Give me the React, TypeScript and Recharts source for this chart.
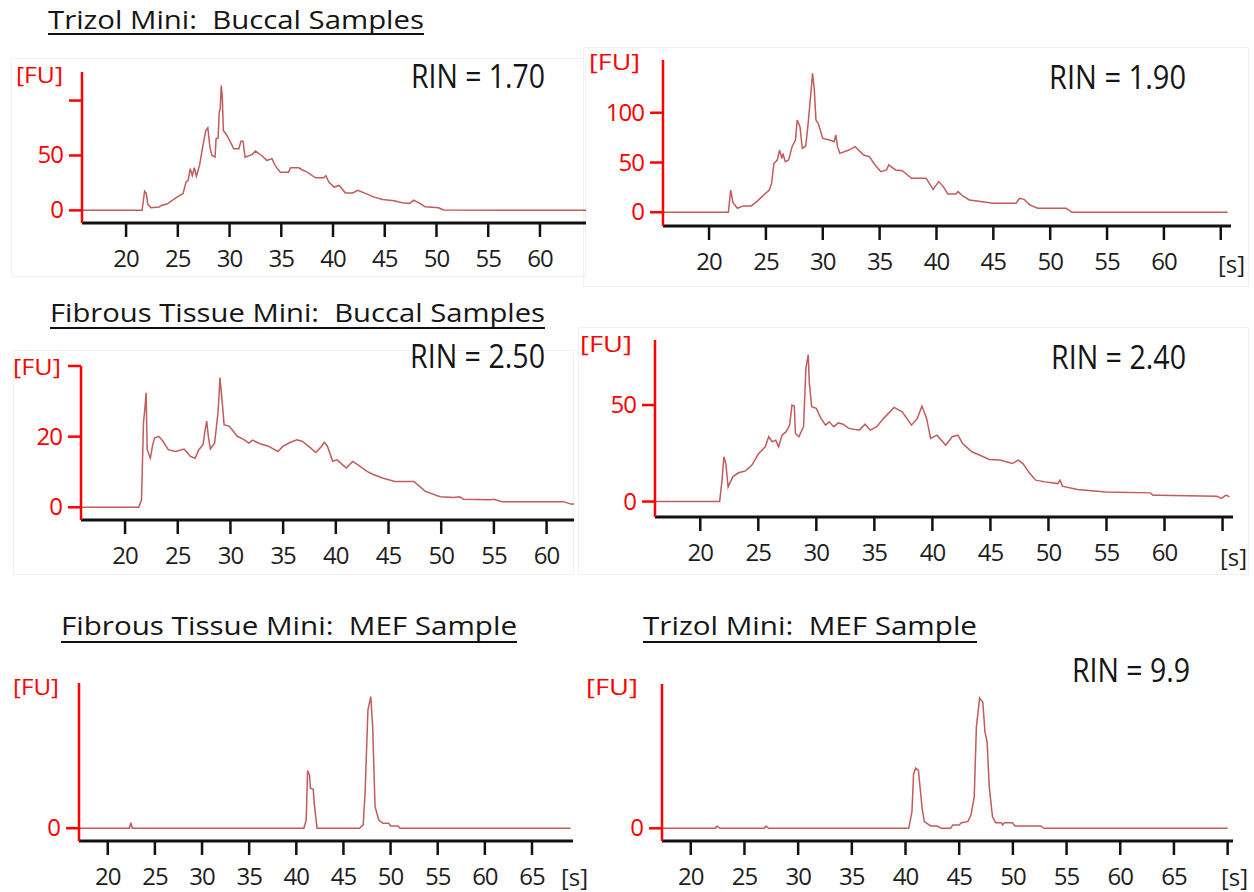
import { LineChart, Line, XAxis, YAxis } from "recharts";

// [time (s), fluorescence (FU)]
const trizolBuccal1: [number, number][] = [
  [15.74, 0], [21.55, 0], [21.79, 17.5], [21.95, 15.5], [22.1, 5.5], [22.4, 2.4], [23.2, 3], [23.4, 4.5],
  [24.0, 6], [24.7, 10.6], [25.2, 13.6], [25.5, 15.2], [25.8, 25.8], [26.0, 27.3], [26.2, 37.9], [26.4, 31.8],
  [26.6, 38.8], [26.8, 31], [27.1, 40.9], [27.4, 57.6], [27.7, 72.7], [27.9, 75.2], [28.1, 57.6], [28.3, 50],
  [28.6, 48.5], [28.7, 65.2], [28.9, 66], [29.0, 89.4], [29.1, 92.4], [29.2, 113.6], [29.3, 103], [29.4, 72.7],
  [29.75, 68.2], [30.1, 62], [30.4, 56], [30.9, 56], [31.1, 63], [31.3, 63], [31.5, 48.5], [32.2, 51],
  [32.5, 54], [33.1, 50], [33.6, 45.5], [34.1, 47], [34.4, 41], [34.9, 34.8], [35.7, 34.8], [35.9, 38.8],
  [36.7, 38.8], [37.0, 37], [37.5, 34.8], [38.3, 29.7], [39.1, 29.7], [39.3, 31.5], [39.6, 25.8], [40.1, 21.2],
  [40.6, 22.7], [41.2, 15.8], [41.9, 15.8], [42.4, 18.2], [43.3, 14.8], [43.9, 12.3], [44.8, 10], [45.9, 8.7],
  [46.7, 6.9], [47.4, 6.3], [47.8, 9.3], [48.3, 6.9], [48.9, 3.3], [50.2, 2.4], [50.7, 0.3], [64.45, 0],
];

const trizolBuccal2: [number, number][] = [
  [15.95, 0], [21.7, 0], [21.9, 22.4], [22.1, 9.7], [22.5, 4], [23.0, 6.4], [23.7, 6.4], [24.2, 10.7],
  [24.9, 18.4], [25.3, 22.4], [25.5, 29], [25.7, 49], [26.0, 52.5], [26.2, 62.5], [26.4, 54], [26.5, 59],
  [26.7, 50.8], [27.0, 52.5], [27.3, 65.9], [27.6, 72.6], [27.75, 92.6], [28.0, 86], [28.2, 64.2], [28.5, 66.6],
  [28.7, 87.6], [28.9, 112.7], [29.1, 139.5], [29.26, 122.7], [29.4, 92.6], [29.6, 89.3], [30.0, 74.2], [30.6, 72.6],
  [31.0, 70.9], [31.15, 77.6], [31.3, 65.9], [31.5, 59.2], [32.3, 62.5], [32.85, 65.9], [33.6, 57.5], [34.1, 55.9],
  [34.6, 47.5], [35.1, 40.8], [35.6, 42.5], [35.8, 47.5], [36.4, 42.5], [37.0, 41.8], [37.8, 34.1], [38.9, 34.1],
  [39.1, 34], [39.7, 23], [40.2, 30.8], [40.6, 25.8], [41.0, 18.4], [41.7, 18.4], [41.9, 20.7], [42.3, 16.4],
  [42.9, 12.4], [45.0, 9], [47.0, 9], [47.3, 14], [47.7, 13], [48.2, 7.4], [48.9, 4], [51.4, 4],
  [51.7, 1.7], [51.9, 0], [65.6, 0],
];

const fibrousBuccal1: [number, number][] = [
  [15.82, 0], [21.3, 0], [21.56, 2.1], [21.75, 23.9], [21.9, 28.6], [22.0, 32.4], [22.1, 16.3], [22.4, 13.9],
  [22.6, 17.3], [22.8, 19.6], [23.2, 20.1], [23.6, 18.7], [24.1, 16.3], [24.8, 15.8], [25.6, 16.5], [25.9, 15.5],
  [26.2, 14.4], [26.65, 13.9], [27.0, 16.3], [27.4, 17.7], [27.6, 22], [27.75, 24.4], [27.9, 20.1], [28.1, 16.5],
  [28.5, 18.2], [28.8, 26.3], [28.9, 30.5], [29.0, 36.7], [29.2, 30.5], [29.4, 23.4], [29.9, 22.9], [30.65, 20.1],
  [31.2, 19.3], [31.75, 18.2], [32.1, 19], [32.8, 18], [33.6, 17.3], [34.5, 15.8], [35.0, 17.3], [35.7, 18.4],
  [36.3, 19.1], [36.8, 18.7], [37.6, 16.8], [38.1, 15.5], [38.65, 17.3], [38.9, 18.4], [39.2, 17.3], [39.7, 13],
  [40.1, 13.5], [40.65, 12], [41.0, 11.1], [41.6, 13], [42.1, 12], [43.0, 10.1], [43.6, 9.2], [44.5, 8.2],
  [45.6, 7.3], [47.4, 7.3], [48.5, 4.5], [49.9, 3], [51.2, 2.8], [51.75, 3], [52.1, 2.3], [54.65, 2.1],
  [55.0, 2.3], [55.75, 1.6], [59.75, 1.6], [61.6, 1.6], [62.3, 0.9], [62.6, 0.9],
];

const fibrousBuccal2: [number, number][] = [
  [16.1, 0], [21.67, 0], [21.86, 10.2], [22.04, 23.2], [22.2, 19.7], [22.4, 7.6], [22.8, 12.8], [23.3, 14.9],
  [23.9, 15.9], [24.45, 18.9], [25.0, 24.6], [25.6, 28.4], [25.9, 33.6], [26.2, 31], [26.5, 31.8], [26.75, 28.4],
  [27.05, 34.4], [27.4, 36.2], [27.7, 39.6], [27.9, 50], [28.1, 49.5], [28.2, 35.3], [28.5, 33.6], [28.9, 38.8],
  [29.1, 69], [29.3, 76], [29.4, 61.2], [29.6, 49.1], [30.0, 48.3], [30.4, 43.1], [30.8, 39.6], [31.1, 41.3],
  [31.5, 38.8], [31.9, 40.8], [32.3, 40.1], [32.8, 37.9], [33.7, 37], [34.2, 40.1], [34.65, 37], [35.2, 38.8],
  [35.8, 43.1], [36.7, 48.8], [37.4, 46.5], [38.2, 39.6], [38.7, 43.1], [39.1, 49.5], [39.5, 43.1], [39.85, 32.7],
  [40.4, 34.4], [41.15, 29.2], [41.7, 33.6], [42.2, 34.4], [42.6, 30.1], [43.4, 25.8], [44.1, 24], [44.9, 21.8],
  [45.8, 21.5], [46.9, 19.7], [47.4, 21.5], [47.8, 19.7], [48.4, 14.5], [48.9, 11.1], [49.7, 10.2], [50.8, 9.3],
  [51.0, 11.1], [51.2, 8], [52.5, 6.2], [54.9, 5], [58.8, 4.5], [59.0, 3.3], [59.5, 3.3], [64.5, 2.8],
  [64.9, 1.6], [65.3, 3.3], [65.6, 2.4],
];

const fibrousMef: [number, number][] = [
  [16.95, 0], [22.3, 0], [22.45, 3.9], [22.6, 0], [40.8, 0], [41.05, 5.7], [41.2, 39.8], [41.4, 36.8],
  [41.5, 27.6], [41.8, 26.9], [41.9, 17.2], [42.2, 0], [46.7, 0], [47.1, 2.3], [47.3, 25.3], [47.6, 81.6],
  [47.9, 90.8], [48.1, 70.1], [48.35, 14.9], [48.75, 5.7], [49.2, 3.4], [49.8, 3.4], [50.0, 1.6], [50.8, 1.6],
  [51.0, 0], [69.1, 0],
];

const trizolMef: [number, number][] = [
  [17.32, 0], [22.3, 0], [22.45, 1.6], [22.7, 0], [26.85, 0], [27.0, 1.6], [27.25, 0], [40.3, 0],
  [40.6, 11.5], [40.75, 37.9], [40.95, 41.8], [41.2, 40.2], [41.35, 28.7], [41.55, 13.8], [41.75, 4.6], [42.35, 1.6],
  [42.95, 1.6], [43.3, 0], [44.2, 0], [44.4, 2.3], [45.0, 2.3], [45.2, 3.9], [45.8, 4.6], [46.1, 9.2],
  [46.4, 21.8], [46.6, 70.1], [46.9, 90.3], [47.2, 87.4], [47.4, 66.7], [47.6, 59.8], [47.8, 28.7], [48.1, 8],
  [48.4, 3.9], [48.9, 3.9], [49.05, 2.3], [49.2, 3.9], [49.95, 3.9], [50.2, 1.6], [52.6, 1.6], [52.9, 0],
  [70.0, 0],
];

// tick values
const ticks20to60 = [20, 25, 30, 35, 40, 45, 50, 55, 60];
const ticks20to65 = [20, 25, 30, 35, 40, 45, 50, 55, 60, 65];
const ticks20to70 = [20, 25, 30, 35, 40, 45, 50, 55, 60, 65, 70];
const secLabels2 = [20, 25, 30, 35, 40, 45, 50, 55, 60];
const secLabels3 = [20, 25, 30, 35, 40, 45, 50, 55, 60, 65];

const titles = [
  { text: "Trizol Mini:  Buccal Samples", x: 48, y: 29, w: 376, u: 34 },
  { text: "Fibrous Tissue Mini:  Buccal Samples", x: 50, y: 322, w: 495, u: 328 },
  { text: "Fibrous Tissue Mini:  MEF Sample", x: 61, y: 635, w: 456, u: 642 },
  { text: "Trizol Mini:  MEF Sample", x: 643, y: 635, w: 334, u: 642 },
];

const rins = [
  { text: "RIN = 1.70", x: 411, y: 88, w: 134 },
  { text: "RIN = 1.90", x: 1049, y: 89, w: 137 },
  { text: "RIN = 2.50", x: 410, y: 368, w: 135 },
  { text: "RIN = 2.40", x: 1051, y: 369, w: 135 },
  { text: "RIN = 9.9", x: 1072, y: 682, w: 118 },
];

const fuLabels = [
  { x: 16, y: 83, w: 47 },
  { x: 589, y: 70, w: 51 },
  { x: 13, y: 375, w: 48 },
  { x: 580, y: 352, w: 52 },
  { x: 13, y: 695, w: 46 },
  { x: 586, y: 695, w: 52 },
];

const secondLabels = [
  { x: 1218, y: 273 },
  { x: 1220, y: 566 },
  { x: 561, y: 886 },
  { x: 1221, y: 886 },
];

const frames = [
  { x: 11, y: 58, w: 575, h: 219 },
  { x: 583, y: 47, w: 666, h: 240 },
  { x: 13, y: 350, w: 561, h: 225 },
  { x: 578, y: 327, w: 671, h: 248 },
];

const FONT = "'Open Sans', 'DejaVu Sans', sans-serif";

type PanelProps = {
  points: [number, number][];
  box: { x: number; top: number; bottom: number; right: number };
  xDomain: [number, number];
  xTicks: number[];
  xLabeled: number[];
  yDomain: [number, number];
  yTicks: number[];
  yLabeled: number[];
};

function Panel({ points, box, xDomain, xTicks, xLabeled, yDomain, yTicks, yLabeled }: PanelProps) {
  const ml = 70;
  const mt = 10;
  const mr = 12;
  const mb = 50;
  const w = box.right - box.x;
  const h = box.bottom - box.top;
  const rows = points.map(([t, fu]) => ({ t, fu }));

  const xTick = (p: any) => {
    const v = p.payload?.value;
    if (!xLabeled.includes(v)) return <g />;
    return (
      <text
        x={p.x}
        y={p.y + 17}
        textAnchor="middle"
        fontSize={24}
        fontFamily={FONT}
        fill="#1e1e1e"
        style={{ letterSpacing: -1 }}
      >
        {v}
      </text>
    );
  };

  const yTick = (p: any) => {
    const v = p.payload?.value;
    if (!yLabeled.includes(v)) return <g />;
    return (
      <text
        x={p.x}
        y={p.y + 8}
        textAnchor="end"
        fontSize={24}
        fontFamily={FONT}
        fill="#f00"
        style={{ letterSpacing: -1 }}
      >
        {v}
      </text>
    );
  };

  return (
    <div style={{ position: "absolute", left: box.x - ml, top: box.top - mt }}>
      <LineChart
        width={w + ml + mr}
        height={h + mt + mb}
        data={rows}
        margin={{ top: mt, right: mr, bottom: 0, left: 0 }}
      >
        <XAxis
          type="number"
          dataKey="t"
          domain={xDomain}
          ticks={xTicks}
          interval={0}
          allowDataOverflow
          height={mb}
          axisLine={{ stroke: "#111", strokeWidth: 3 }}
          tickLine={{ stroke: "#111", strokeWidth: 2.5 }}
          tickSize={14}
          tickMargin={13}
          tick={xTick}
        />
        <YAxis
          type="number"
          domain={yDomain}
          ticks={yTicks}
          interval={0}
          allowDataOverflow
          width={ml}
          axisLine={{ stroke: "#f00", strokeWidth: 2.5 }}
          tickLine={{ stroke: "#f00", strokeWidth: 2.5 }}
          tickSize={13}
          tickMargin={6}
          tick={yTick}
        />
        <Line
          type="linear"
          dataKey="fu"
          stroke="#c25b5b"
          strokeWidth={1.5}
          dot={false}
          isAnimationActive={false}
        />
      </LineChart>
    </div>
  );
}

export default function App() {
  return (
    <div
      style={{
        position: "absolute",
        left: 0,
        top: 0,
        width: 1254,
        height: 892,
        background: "#fff",
        overflow: "hidden",
        fontFamily: FONT,
      }}
    >
      {frames.map((f, i) => (
        <div
          key={i}
          style={{
            position: "absolute",
            left: f.x,
            top: f.y,
            width: f.w,
            height: f.h,
            border: "1px solid #f1f1f1",
            boxSizing: "border-box",
          }}
        />
      ))}

      <Panel
        points={trizolBuccal1}
        box={{ x: 82, top: 72, bottom: 223, right: 586 }}
        xDomain={[15.74, 64.45]}
        xTicks={ticks20to60}
        xLabeled={ticks20to60}
        yDomain={[-11.5, 126]}
        yTicks={[0, 50, 100]}
        yLabeled={[0, 50]}
      />
      <Panel
        points={trizolBuccal2}
        box={{ x: 663, top: 60, bottom: 226, right: 1231 }}
        xDomain={[15.95, 65.9]}
        xTicks={ticks20to65}
        xLabeled={secLabels2}
        yDomain={[-13.8, 153]}
        yTicks={[0, 50, 100]}
        yLabeled={[0, 50, 100]}
      />
      <Panel
        points={fibrousBuccal1}
        box={{ x: 81, top: 366, bottom: 520, right: 574 }}
        xDomain={[15.82, 62.6]}
        xTicks={ticks20to60}
        xLabeled={ticks20to60}
        yDomain={[-3.6, 40]}
        yTicks={[0, 20, 40]}
        yLabeled={[0, 20]}
      />
      <Panel
        points={fibrousBuccal2}
        box={{ x: 655, top: 340, bottom: 517, right: 1233 }}
        xDomain={[16.1, 65.9]}
        xTicks={ticks20to65}
        xLabeled={secLabels2}
        yDomain={[-8, 83.7]}
        yTicks={[0, 50]}
        yLabeled={[0, 50]}
      />
      <Panel
        points={fibrousMef}
        box={{ x: 79, top: 683, bottom: 841, right: 573 }}
        xDomain={[16.95, 69.35]}
        xTicks={ticks20to65}
        xLabeled={ticks20to65}
        yDomain={[-8.8, 100.2]}
        yTicks={[0]}
        yLabeled={[0]}
      />
      <Panel
        points={trizolMef}
        box={{ x: 662, top: 684, bottom: 841, right: 1233 }}
        xDomain={[17.32, 70.5]}
        xTicks={ticks20to70}
        xLabeled={secLabels3}
        yDomain={[-8.8, 100]}
        yTicks={[0]}
        yLabeled={[0]}
      />

      <svg
        width={1254}
        height={892}
        style={{ position: "absolute", left: 0, top: 0, pointerEvents: "none" }}
      >
        {titles.map((t, i) => (
          <g key={i}>
            <text
              x={t.x}
              y={t.y}
              fontSize={26}
              fontFamily={FONT}
              fill="#151515"
              textLength={t.w}
              lengthAdjust="spacingAndGlyphs"
              style={{ whiteSpace: "pre" }}
            >
              {t.text}
            </text>
            <line x1={t.x} x2={t.x + t.w} y1={t.u} y2={t.u} stroke="#111" strokeWidth={2} />
          </g>
        ))}
        {rins.map((r, i) => (
          <text
            key={i}
            x={r.x}
            y={r.y}
            fontSize={32}
            fontFamily={FONT}
            fill="#151515"
            textLength={r.w}
            lengthAdjust="spacingAndGlyphs"
          >
            {r.text}
          </text>
        ))}
        {fuLabels.map((f, i) => (
          <text
            key={i}
            x={f.x}
            y={f.y}
            fontSize={22}
            fontFamily={FONT}
            fill="#f00"
            textLength={f.w}
            lengthAdjust="spacingAndGlyphs"
          >
            [FU]
          </text>
        ))}
        {secondLabels.map((s, i) => (
          <text key={i} x={s.x} y={s.y} fontSize={24} fontFamily={FONT} fill="#1e1e1e">
            [s]
          </text>
        ))}
      </svg>
    </div>
  );
}
